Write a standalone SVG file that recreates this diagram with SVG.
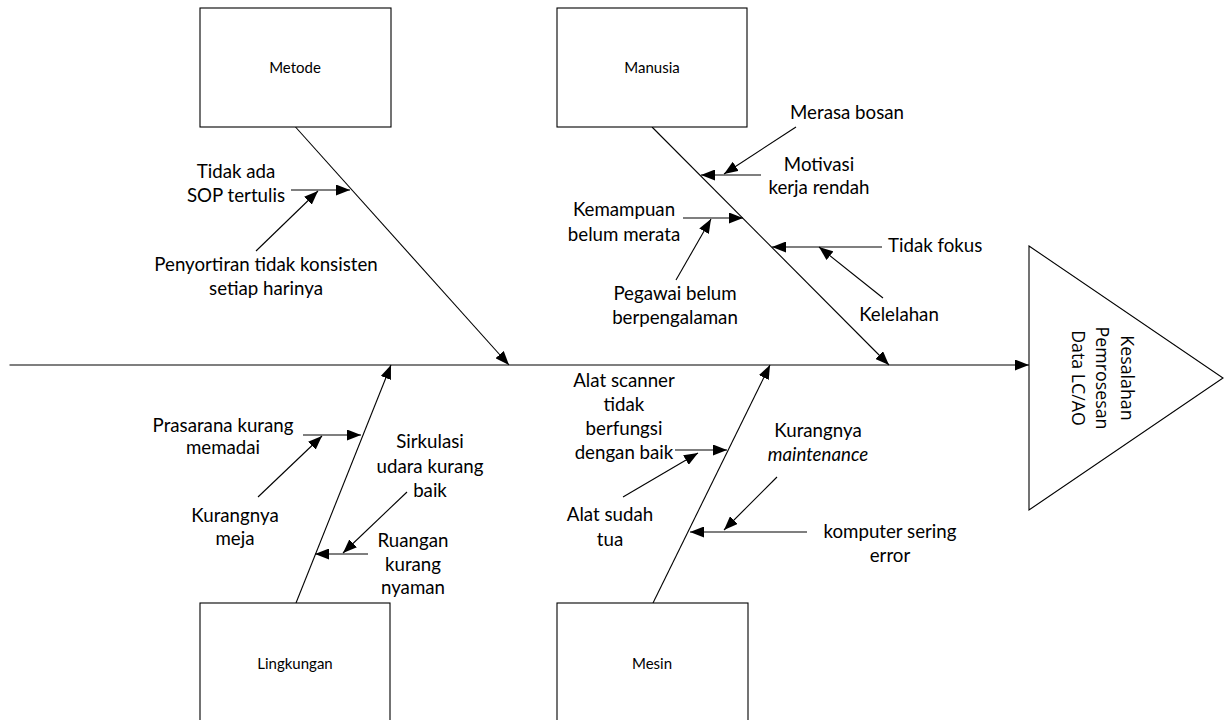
<svg xmlns="http://www.w3.org/2000/svg" width="1227" height="720" viewBox="0 0 1227 720">
<defs>
<marker id="ah" markerUnits="userSpaceOnUse" markerWidth="15" markerHeight="11" refX="14" refY="5.5" orient="auto">
<path d="M0,0 L14,5.5 L0,11 z" fill="#000"/>
</marker>
<style>
.box{fill:#fff;stroke:#000;stroke-width:1.1}
.ln{stroke:#000;stroke-width:1.1;fill:none}
.ar{stroke:#000;stroke-width:1.1;fill:none;marker-end:url(#ah)}
.lbl{font-family:Lato,"Liberation Sans",sans-serif;font-size:18.7px;fill:#000;text-anchor:middle}
.bl{font-family:Lato,"Liberation Sans",sans-serif;font-size:15px;fill:#000;text-anchor:middle}
.tri{font-family:"Open Sans","Noto Sans",sans-serif;font-size:17.8px;fill:#000;text-anchor:middle}
</style>
</defs>
<rect width="1227" height="720" fill="#fff"/>

<g id="connectors">
<line class="ar" x1="9.5" y1="365" x2="1029" y2="365"/>
<line class="ar" x1="295.5" y1="127" x2="509" y2="365"/>
<line class="ar" x1="652" y1="127" x2="889" y2="365"/>
<line class="ar" x1="296" y1="603" x2="391" y2="365"/>
<line class="ar" x1="653" y1="603" x2="770" y2="365"/>
<line class="ar" x1="291" y1="190" x2="350" y2="190"/>
<line class="ar" x1="256" y1="251" x2="318" y2="191"/>
<line class="ar" x1="796" y1="127" x2="724" y2="174"/>
<line class="ar" x1="761" y1="175" x2="701" y2="175"/>
<line class="ar" x1="683" y1="218" x2="743" y2="218"/>
<line class="ar" x1="676" y1="280" x2="711" y2="219"/>
<line class="ar" x1="882" y1="247" x2="772" y2="247"/>
<line class="ar" x1="883" y1="298" x2="819" y2="247"/>
<line class="ar" x1="303" y1="435" x2="361" y2="435"/>
<line class="ar" x1="258" y1="497" x2="322" y2="436"/>
<line class="ar" x1="407" y1="492" x2="343" y2="553"/>
<line class="ar" x1="368" y1="554" x2="315" y2="554"/>
<line class="ar" x1="675" y1="450" x2="727" y2="450"/>
<line class="ar" x1="623" y1="497" x2="698" y2="453"/>
<line class="ar" x1="777" y1="477" x2="724" y2="530"/>
<line class="ar" x1="807" y1="532" x2="690" y2="532"/>
</g>

<g id="metode">
<rect class="box" x="200" y="8" width="191" height="119"/>
<text class="bl" x="295" y="73">Metode</text>
</g>
<g id="manusia">
<rect class="box" x="557" y="8" width="190" height="119"/>
<text class="bl" x="652" y="73">Manusia</text>
</g>
<g id="lingkungan">
<rect class="box" x="200" y="603" width="190" height="130"/>
<text class="bl" x="295" y="669">Lingkungan</text>
</g>
<g id="mesin">
<rect class="box" x="557" y="603" width="191" height="130"/>
<text class="bl" x="652" y="669">Mesin</text>
</g>
<g id="effect">
<polygon class="box" points="1029,246 1223,378 1029,510"/>
<text class="tri" transform="translate(1102,378) rotate(90)"><tspan x="0" y="-19">Kesalahan</tspan><tspan x="0" y="6">Pemrosesan</tspan><tspan x="0" y="30">Data LC/AO</tspan></text>
</g>

<g id="cause-metode-1"><text class="lbl"><tspan x="236" y="178">Tidak ada</tspan><tspan x="236" y="202">SOP tertulis</tspan></text></g>
<g id="cause-metode-2"><text class="lbl"><tspan x="266" y="271">Penyortiran tidak konsisten</tspan><tspan x="266" y="295">setiap harinya</tspan></text></g>

<g id="cause-manusia-1"><text class="lbl" x="847" y="119">Merasa bosan</text></g>
<g id="cause-manusia-2"><text class="lbl"><tspan x="819" y="171">Motivasi</tspan><tspan x="819" y="194">kerja rendah</tspan></text></g>
<g id="cause-manusia-3"><text class="lbl"><tspan x="624" y="216">Kemampuan</tspan><tspan x="624" y="241">belum merata</tspan></text></g>
<g id="cause-manusia-4"><text class="lbl"><tspan x="675" y="300">Pegawai belum</tspan><tspan x="675" y="324">berpengalaman</tspan></text></g>
<g id="cause-manusia-5"><text class="lbl" x="888" y="252" style="text-anchor:start">Tidak fokus</text></g>
<g id="cause-manusia-6"><text class="lbl" x="899" y="321">Kelelahan</text></g>

<g id="cause-lingkungan-1"><text class="lbl"><tspan x="223" y="432">Prasarana kurang</tspan><tspan x="223" y="454">memadai</tspan></text></g>
<g id="cause-lingkungan-2"><text class="lbl"><tspan x="235" y="522">Kurangnya</tspan><tspan x="235" y="545">meja</tspan></text></g>
<g id="cause-lingkungan-3"><text class="lbl"><tspan x="430" y="448">Sirkulasi</tspan><tspan x="430" y="473">udara kurang</tspan><tspan x="430" y="497">baik</tspan></text></g>
<g id="cause-lingkungan-4"><text class="lbl"><tspan x="413" y="547">Ruangan</tspan><tspan x="413" y="571">kurang</tspan><tspan x="413" y="594">nyaman</tspan></text></g>

<g id="cause-mesin-1"><text class="lbl"><tspan x="624" y="387">Alat scanner</tspan><tspan x="624" y="411">tidak</tspan><tspan x="624" y="435">berfungsi</tspan><tspan x="624" y="459">dengan baik</tspan></text></g>
<g id="cause-mesin-2"><text class="lbl"><tspan x="610" y="521">Alat sudah</tspan><tspan x="610" y="546">tua</tspan></text></g>
<g id="cause-mesin-3"><text class="lbl"><tspan x="818" y="437">Kurangnya</tspan><tspan x="818" y="461" font-style="italic">maintenance</tspan></text></g>
<g id="cause-mesin-4"><text class="lbl"><tspan x="890" y="538">komputer sering</tspan><tspan x="890" y="562">error</tspan></text></g>
</svg>
